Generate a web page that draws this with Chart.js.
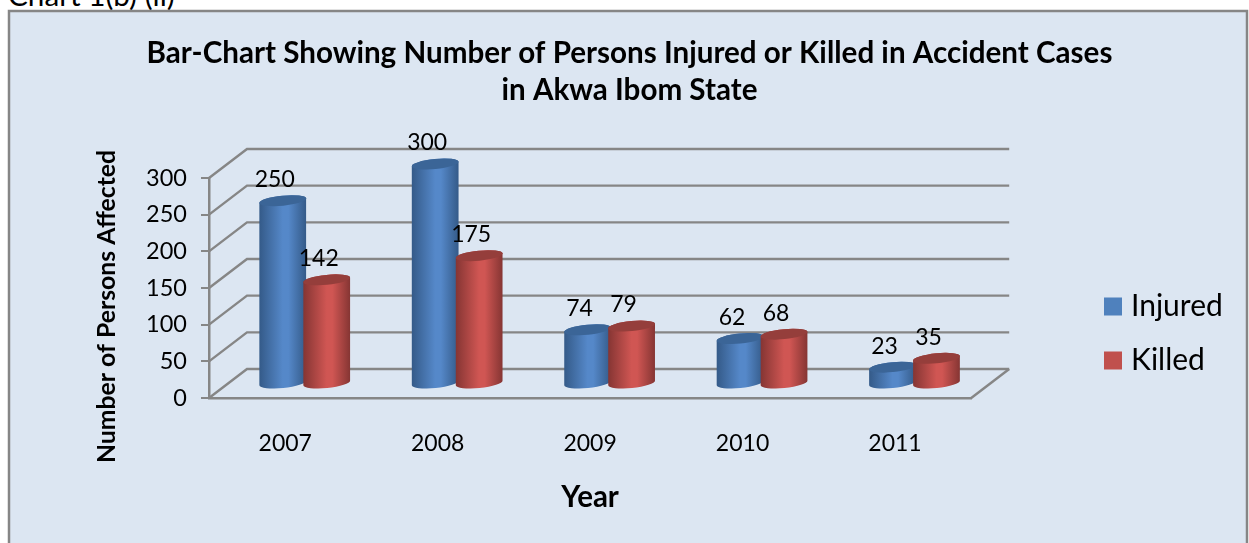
<!DOCTYPE html>
<html>
<head>
<meta charset="utf-8">
<style>
  html, body { margin: 0; padding: 0; background: #fff; overflow: hidden; }
  #caption { position: absolute; left: 8px; top: -23px; font: 29.7px Lato, sans-serif; color: #000; white-space: nowrap; }
  canvas { position: absolute; left: 0; top: 0; }
</style>
<script src="https://cdn.jsdelivr.net/npm/chart.js@4"></script>
</head>
<body>
<div id="caption">Chart 1(b) (ii)</div>
<canvas id="myChart" width="1249" height="543"></canvas>
<script>
const years = ['2007', '2008', '2009', '2010', '2011'];
const injured = [250, 300, 74, 62, 23];
const killed = [142, 175, 79, 68, 35];
const seriesNames = ['Injured', 'Killed'];
const yAxisTitle = 'Number of Persons Affected';

const FONT = 'Lato, sans-serif';
const GREY = '#868686';
const WALL_X = 38, WALL_Y = 29;   // back wall offset of the 3D box
const BAR_X = 19.5, BAR_Y = 14;   // bars stand in the middle of the floor
const TILT = -0.1;
const shades = [
  { edge: '#345a88', mid: '#5588c9', top: '#3b6597' },
  { edge: '#853533', mid: '#d05653', top: '#953e3b' },
];

// backdrop panel, walls and floor
const boxPlugin = {
  id: 'box3d',
  afterLayout(chart) {
    const legend = chart.legend;
    legend.left = 1086;
    legend.right = 1249;
    legend.top = 124;
    const title = chart.titleBlock;
    title.left = 12;
    title.right = 1247;
  },
  beforeDraw(chart) {
    const ctx = chart.ctx;
    ctx.save();
    ctx.fillStyle = '#dce6f2';
    ctx.strokeStyle = GREY;
    ctx.lineWidth = 2.5;
    ctx.fillRect(9, 11, 1238, 540);
    ctx.strokeRect(9, 11, 1238, 540);
    ctx.restore();
  },
  beforeDatasetsDraw(chart) {
    const { ctx, chartArea: area, scales: { y } } = chart;
    ctx.save();
    ctx.strokeStyle = GREY;
    ctx.lineWidth = 2.4;
    y.ticks.forEach((t) => {
      const py = y.getPixelForValue(t.value);
      ctx.beginPath();
      ctx.moveTo(area.left, py);
      ctx.lineTo(area.left + WALL_X, py - WALL_Y);
      ctx.lineTo(area.right + WALL_X, py - WALL_Y);
      ctx.stroke();
    });
    ctx.beginPath();
    ctx.moveTo(area.right, area.bottom);
    ctx.lineTo(area.right + WALL_X, area.bottom - WALL_Y);
    ctx.stroke();
    ctx.restore();
  },
  // flat bars are replaced by the cylinders below
  beforeDatasetDraw() {
    return false;
  },
  afterDatasetsDraw(chart) {
    const ctx = chart.ctx;
    years.forEach((_, i) => {
      chart.data.datasets.forEach((ds, d) => {
        drawCylinder(ctx, chart.getDatasetMeta(d).data[i], shades[d]);
      });
    });
    ctx.save();
    ctx.fillStyle = '#000';
    ctx.font = '23px ' + FONT;
    ctx.textAlign = 'center';
    ctx.textBaseline = 'middle';
    years.forEach((_, i) => {
      chart.data.datasets.forEach((ds, d) => {
        const el = chart.getDatasetMeta(d).data[i];
        ctx.fillText(ds.data[i], el.x + BAR_X - 8, el.y - BAR_Y - 21);
      });
    });
    ctx.restore();
  },
  afterDraw(chart) {
    const ctx = chart.ctx;
    ctx.save();
    ctx.translate(107, 306.5);
    ctx.rotate(-Math.PI / 2);
    ctx.fillStyle = '#000';
    ctx.font = 'bold 24.8px ' + FONT;
    ctx.textAlign = 'center';
    ctx.textBaseline = 'middle';
    ctx.fillText(yAxisTitle, 0, 0);
    ctx.restore();
  },
};

function drawCylinder(ctx, el, shade) {
  const cx = el.x + BAR_X;
  const top = el.y - BAR_Y;
  const bottom = el.base - BAR_Y;
  const rx = el.width / 2 + 1.5;
  const ry = 5;
  const grad = ctx.createLinearGradient(cx - rx, 0, cx + rx, 0);
  grad.addColorStop(0, shade.edge);
  grad.addColorStop(0.5, shade.mid);
  grad.addColorStop(0.62, shade.mid);
  grad.addColorStop(1, shade.edge);
  ctx.save();
  ctx.fillStyle = grad;
  ctx.beginPath();
  ctx.ellipse(cx, bottom, rx, ry, TILT, 0, Math.PI);
  ctx.ellipse(cx, top, rx, ry, TILT, Math.PI, Math.PI * 2);
  ctx.closePath();
  ctx.fill();
  ctx.fillStyle = shade.top;
  ctx.beginPath();
  ctx.ellipse(cx, top, rx, ry, TILT, 0, Math.PI * 2);
  ctx.fill();
  ctx.restore();
}

new Chart(document.getElementById('myChart'), {
  type: 'bar',
  data: {
    labels: years,
    datasets: [
      { label: seriesNames[0], data: injured, backgroundColor: '#4f81bd', borderWidth: 0 },
      { label: seriesNames[1], data: killed, backgroundColor: '#c0504d', borderWidth: 0 },
    ],
  },
  options: {
    responsive: false,
    animation: false,
    categoryPercentage: 0.577,
    barPercentage: 1,
    layout: { padding: { right: 131 } },
    plugins: {
      title: {
        display: true,
        text: ['Bar-Chart Showing Number of Persons Injured or Killed in Accident Cases', 'in Akwa Ibom State'],
        color: '#000',
        font: { family: FONT, size: 29.6, weight: 'bold', lineHeight: 1.25 },
        padding: { top: 35, bottom: 69 },
      },
      legend: {
        position: 'right',
        labels: {
          color: '#000',
          font: { family: FONT, size: 30 },
          usePointStyle: true,
          pointStyle: 'rect',
          boxWidth: 6,
          boxHeight: 18,
          padding: 24,
        },
      },
      tooltip: { enabled: false },
    },
    scales: {
      x: {
        afterFit(scale) { scale.height = 145; },
        grid: { display: false },
        border: { display: true, color: GREY, width: 2.5 },
        ticks: { color: '#000', font: { family: FONT, size: 23 }, padding: 24, maxRotation: 0 },
        title: {
          display: true,
          text: 'Year',
          color: '#000',
          font: { family: FONT, size: 29.5, weight: 'bold' },
          padding: { top: 0, bottom: 28 },
        },
      },
      y: {
        min: 0,
        max: 300,
        afterFit(scale) { scale.width = 209; },
        ticks: { stepSize: 50, color: '#000', font: { family: FONT, size: 23.5 }, padding: 14 },
        grid: { drawOnChartArea: false, color: GREY, tickLength: 8, lineWidth: 2 },
        border: { display: true, color: GREY, width: 2.5 },
      },
    },
  },
  plugins: [boxPlugin],
});
</script>
</body>
</html>
